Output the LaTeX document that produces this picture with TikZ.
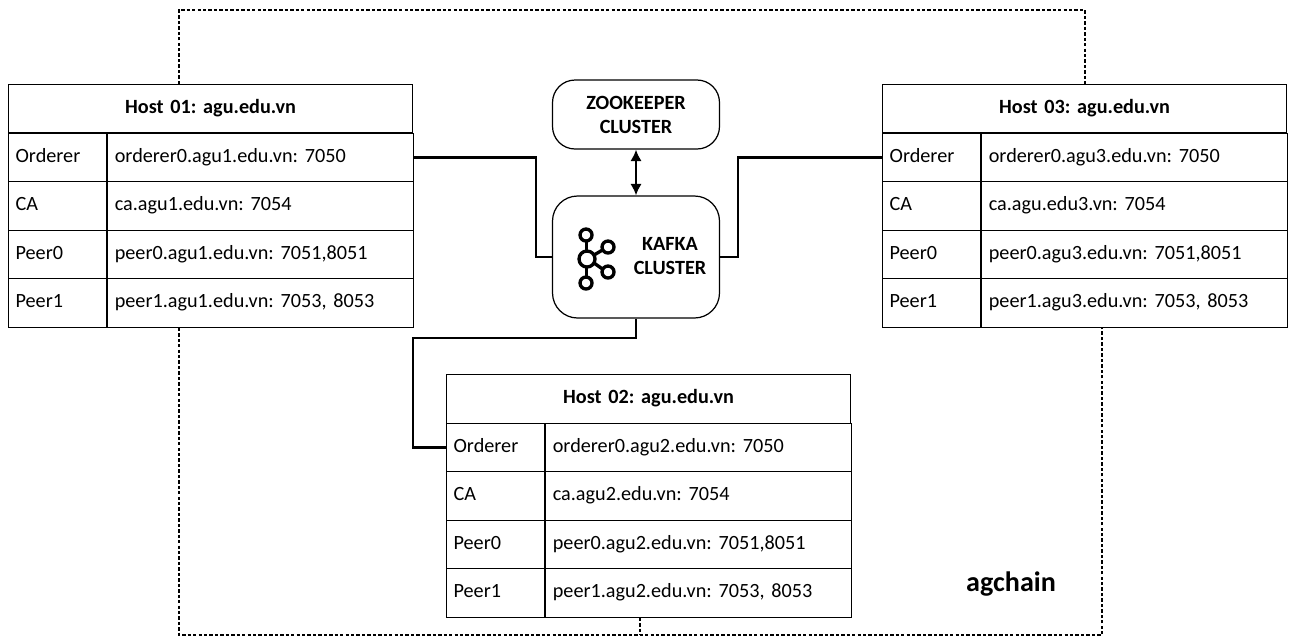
\documentclass[tikz,border=0pt]{standalone}
\usepackage{fontspec}
\setmainfont{Carlito}
\usepackage{tikz}
\usetikzlibrary{arrows.meta,calc}
\frenchspacing

\begin{document}
\begin{tikzpicture}[x=0.02cm,y=-0.02cm,
  cell/.style={draw,line width=0.7pt,minimum height=0.97cm,inner xsep=0.14cm,inner ysep=0pt,
    text height=1.6ex,text depth=0.45ex,anchor=north west,font=\fontsize{11.5}{13}\selectfont},
  keycell/.style={cell,text width=1.68cm,align=left},
  valcell/.style={cell,text width=5.84cm,align=left},
  headcell/.style={cell,text width=7.8cm,align=center,font=\fontsize{11.5}{13}\selectfont\bfseries},
  cluster/.style={draw,line width=0.7pt,rounded corners=0.45cm,minimum width=3.34cm,
    align=center,font=\fontsize{11.5}{13.6}\selectfont\bfseries},
  link/.style={line width=1.4pt},
  frame/.style={line width=1.4pt,dash pattern=on 1.9pt off 1.2pt},
  logo/.style={line width=1.9pt}]
\useasboundingbox (0,0) rectangle (1290,637);

% Host 01
\node[headcell] (h1head) at (8,84) {Host 01: agu.edu.vn};
\foreach \k/\v [count=\i] in {Orderer/{orderer0.agu1.edu.vn: 7050},CA/{ca.agu1.edu.vn: 7054},
    Peer0/{peer0.agu1.edu.vn: 7051,8051},Peer1/{peer1.agu1.edu.vn: 7053, 8053}}{
  \node[keycell] (h1k\i) at (8,{84+48.5*\i}) {\k};
  \node[valcell] (h1v\i) at (h1k\i.north east) {\v};
}

% Host 02
\node[headcell] (h2head) at (446,374) {Host 02: agu.edu.vn};
\foreach \k/\v [count=\i] in {Orderer/{orderer0.agu2.edu.vn: 7050},CA/{ca.agu2.edu.vn: 7054},
    Peer0/{peer0.agu2.edu.vn: 7051,8051},Peer1/{peer1.agu2.edu.vn: 7053, 8053}}{
  \node[keycell] (h2k\i) at (446,{374+48.5*\i}) {\k};
  \node[valcell] (h2v\i) at (h2k\i.north east) {\v};
}

% Host 03
\node[headcell] (h3head) at (882,84) {Host 03: agu.edu.vn};
\foreach \k/\v [count=\i] in {Orderer/{orderer0.agu3.edu.vn: 7050},CA/{ca.agu.edu3.vn: 7054},
    Peer0/{peer0.agu3.edu.vn: 7051,8051},Peer1/{peer1.agu3.edu.vn: 7053, 8053}}{
  \node[keycell] (h3k\i) at (882,{84+48.5*\i}) {\k};
  \node[valcell] (h3v\i) at (h3k\i.north east) {\v};
}

% clusters
\node[cluster,minimum height=1.38cm] (zoo) at (636,114.5) {ZOOKEEPER\\CLUSTER};
\node[cluster,minimum height=2.44cm,rounded corners=0.5cm] (kafka) at (636,257) {};
\node[align=center,font=\fontsize{11.5}{13.6}\selectfont\bfseries] (kafkatxt) at (670,256) {KAFKA\\CLUSTER};
\begin{scope}[shift={(kafka.center)},logo]
  \draw (-49,2) circle (8) coordinate (kc);
  \draw (-50,-22) circle (6) coordinate (kt);
  \draw (-50,26) circle (6) coordinate (kb);
  \draw (-28,-10) circle (6) coordinate (ku);
  \draw (-28,15) circle (6) coordinate (kl);
  \draw (-49.5,-16) -- (-49.5,-6);
  \draw (-49.5,10) -- (-49.5,20);
  \draw (-42,-2) -- (-33.5,-7);
  \draw (-42,6) -- (-33.5,12);
\end{scope}
\draw[link,{Latex[length=2.3mm,width=2.3mm]}-{Latex[length=2.3mm,width=2.3mm]}] (zoo) -- (kafka);

% links to the orderers
\coordinate (j1) at (536,0);
\coordinate (j2) at (738,0);
\coordinate (j3) at (413,338);
\draw[link] (h1v1.east) -- (h1v1.east -| j1) |- (kafka.west);
\draw[link] (kafka.east) -- (kafka.east -| j2) |- (h3k1.west);
\draw[link] (kafka.south) |- (j3) |- (h2k1.west);

% agchain frame
\coordinate (fa) at (179,10);
\coordinate (fb) at (1085,10);
\coordinate (fc) at (179,635);
\coordinate (fd) at (1102,635);
\coordinate (fe) at (640,635);
\draw[frame] (h1head.north -| fa) -- (fa) -- (fb) -- (fb |- h3head.north);
\draw[frame] (h1v4.south -| fc) -- (fc) -- (fd) -- (h3v4.south -| fd);
\draw[frame] (h2v4.south -| fe) -- (fe);
\node[font=\fontsize{16}{19}\selectfont\bfseries] (agchain) at (1011,584) {agchain};
\end{tikzpicture}
\end{document}
